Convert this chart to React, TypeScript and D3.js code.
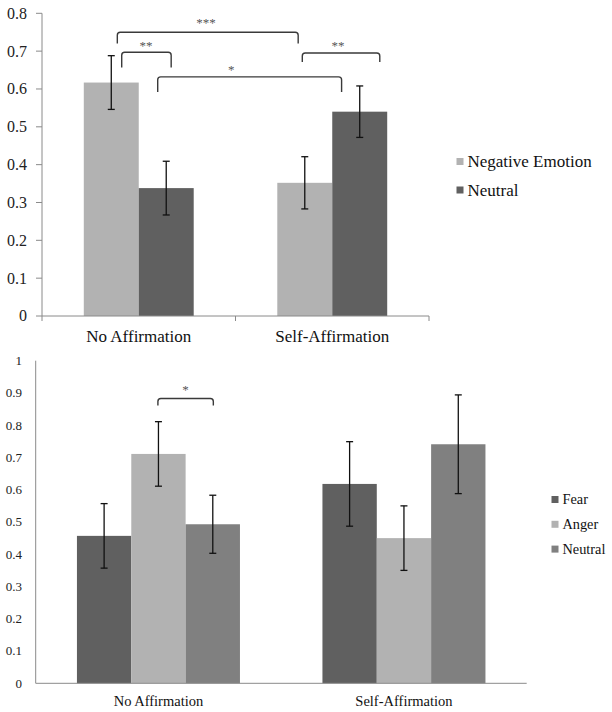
import React from "react";
import * as d3 from "d3";

// ---- Top chart data ----
const topCategories = ["No Affirmation", "Self-Affirmation"];
const topSeries = ["Negative Emotion", "Neutral"];
const topValues = [
  [0.617, 0.338],
  [0.352, 0.54],
];
const topErrors = [
  [0.071, 0.071],
  [0.069, 0.068],
];
const topTicks = [0, 0.1, 0.2, 0.3, 0.4, 0.5, 0.6, 0.7, 0.8];
const topColors = ["#b2b2b2", "#606060"];
// brackets: [category, series, fraction within bar]
const topBrackets = [
  { from: [0, 0, 0.61], to: [1, 0, 0.38], y: 0.75, legL: 0.72, legR: 0.72, label: "***", at: 0.49, dy: 5.5 },
  { from: [0, 0, 0.69], to: [0, 1, 0.59], y: 0.697, legL: 0.657, legR: 0.657, label: "**", at: 0.49, dy: 2.5 },
  { from: [0, 1, 0.345], to: [1, 1, 0.17], y: 0.632, legL: 0.592, legR: 0.592, label: "*", at: 0.4, dy: 2.5 },
  { from: [1, 0, 0.455], to: [1, 1, 0.865], y: 0.695, legL: 0.671, legR: 0.671, label: "**", at: 0.46, dy: 3.5 },
];

// ---- Bottom chart data ----
const botCategories = ["No Affirmation", "Self-Affirmation"];
const botSeries = ["Fear", "Anger", "Neutral"];
const botValues = [
  [0.457, 0.711, 0.493],
  [0.618, 0.45, 0.741],
];
const botErrors = [
  [0.1, 0.1, 0.09],
  [0.131, 0.1, 0.153],
];
const botTicks = [0, 0.1, 0.2, 0.3, 0.4, 0.5, 0.6, 0.7, 0.8, 0.9, 1];
const botColors = ["#606060", "#b2b2b2", "#808080"];
const botBrackets = [
  { from: [0, 1, 0.49], to: [0, 2, 0.51], y: 0.883, legL: 0.861, legR: 0.861, label: "*", at: 0.5, dy: 4 },
];

const FONT = "Liberation Serif";
const AXIS = "#8a8a8a";

function fmt(v: number) {
  return v === 0 ? "0" : v === 1 ? "1" : d3.format(".1f")(v);
}

function Chart(props: any) {
  const {
    categories, series, values, errors, ticks, colors, brackets,
    x0, x1, y0, y1, yMax, groupFrac, tickFont, labelFont, labelY,
    tickLabelX, yTickMarks, xTickMarks, legendX, legendY, legendStep, legendFont, legendSq,
  } = props;
  const y = d3.scaleLinear().domain([0, yMax]).range([y0, y1]);
  const xb = d3.scaleBand().domain(categories).range([x0, x1]).padding(0);
  const bw = xb.bandwidth();
  const gw = bw * groupFrac;
  const xi = d3.scaleBand().domain(series).range([(bw - gw) / 2, (bw + gw) / 2]).padding(0);
  const barW = xi.bandwidth();
  const posX = (p: number[]) => (xb(categories[p[0]]) as number) + (xi(series[p[1]]) as number) + barW * p[2];
  const r = 3;
  const ts = { fontFamily: FONT };
  return (
    <g>
      {categories.map((c: string, ci: number) =>
        series.map((s: string, si: number) => {
          const v = values[ci][si];
          const bx = (xb(c) as number) + (xi(s) as number);
          return <rect key={c + s} x={bx} y={y(v)} width={barW} height={y0 - y(v)} fill={colors[si]} />;
        })
      )}
      <line x1={x0} x2={x0} y1={y1} y2={y0} stroke={AXIS} strokeWidth={1} />
      <line x1={x0} x2={x1} y1={y0} y2={y0} stroke={AXIS} strokeWidth={1} />
      {yTickMarks && ticks.map((t: number) => (
        <line key={"tm" + t} x1={x0 - 6} x2={x0} y1={y(t)} y2={y(t)} stroke={AXIS} strokeWidth={1} />
      ))}
      {xTickMarks && [x0, ...categories.map((c: string) => (xb(c) as number) + bw)].map((xx: number) => (
        <line key={"xt" + xx} x1={xx} x2={xx} y1={y0} y2={y0 + 5} stroke={AXIS} strokeWidth={1} />
      ))}
      {ticks.map((t: number) => (
        <text key={"tl" + t} x={tickLabelX} y={y(t)} dy="0.34em" textAnchor="end" fontSize={tickFont} fill="#222" style={ts}>
          {fmt(t)}
        </text>
      ))}
      {categories.map((c: string) => (
        <text key={"cl" + c} x={(xb(c) as number) + bw / 2} y={labelY} textAnchor="middle" fontSize={labelFont} fill="#111" style={ts}>
          {c}
        </text>
      ))}
      {categories.map((c: string, ci: number) =>
        series.map((s: string, si: number) => {
          const v = values[ci][si];
          const e = errors[ci][si];
          const cx = (xb(c) as number) + (xi(s) as number) + barW / 2;
          return (
            <g key={"e" + c + s} stroke="#111" strokeWidth={1.3}>
              <line x1={cx} x2={cx} y1={y(v + e)} y2={y(v - e)} />
              <line x1={cx - 3.5} x2={cx + 3.5} y1={y(v + e)} y2={y(v + e)} />
              <line x1={cx - 3.5} x2={cx + 3.5} y1={y(v - e)} y2={y(v - e)} />
            </g>
          );
        })
      )}
      {brackets.map((b: any, i: number) => {
        const xa = posX(b.from);
        const xc = posX(b.to);
        const yh = y(b.y);
        const d = `M${xa},${y(b.legL)} L${xa},${yh + r} Q${xa},${yh} ${xa + r},${yh} L${xc - r},${yh} Q${xc},${yh} ${xc},${yh + r} L${xc},${y(b.legR)}`;
        return (
          <g key={"b" + i}>
            <path d={d} fill="none" stroke="#3a3a3a" strokeWidth={1.4} />
            <text x={xa + (xc - xa) * b.at} y={yh - b.dy} textAnchor="middle" fontSize={13} fill="#555" style={ts}>
              {b.label}
            </text>
          </g>
        );
      })}
      {series.map((s: string, si: number) => (
        <g key={"lg" + s}>
          <rect x={legendX} y={legendY + si * legendStep - legendSq / 2} width={legendSq} height={legendSq} fill={colors[si]} />
          <text x={legendX + legendSq + 4} y={legendY + si * legendStep} dy="0.34em" fontSize={legendFont} fill="#111" style={ts}>
            {s}
          </text>
        </g>
      ))}
    </g>
  );
}

export default function App() {
  return (
    <svg width={612} height={712} style={{ position: "absolute", left: 0, top: 0, background: "#fff" }}>
      <rect x={0} y={0} width={612} height={712} fill="#fff" />
      <Chart
        categories={topCategories} series={topSeries} values={topValues} errors={topErrors}
        ticks={topTicks} colors={topColors} brackets={topBrackets}
        x0={42} x1={429} y0={316} y1={13.3} yMax={0.8} groupFrac={0.568}
        tickFont={16} labelFont={17} labelY={341.5} tickLabelX={27}
        yTickMarks={true} xTickMarks={true}
        legendX={456.5} legendY={161.5} legendStep={28.5} legendFont={17} legendSq={7}
      />
      <Chart
        categories={botCategories} series={botSeries} values={botValues} errors={botErrors}
        ticks={botTicks} colors={botColors} brackets={botBrackets}
        x0={35.7} x1={526.7} y0={683.3} y1={360.7} yMax={1} groupFrac={0.664}
        tickFont={13} labelFont={14.5} labelY={706} tickLabelX={22}
        yTickMarks={false} xTickMarks={false}
        legendX={551.5} legendY={499.5} legendStep={24.8} legendFont={14.3} legendSq={7}
      />
    </svg>
  );
}
